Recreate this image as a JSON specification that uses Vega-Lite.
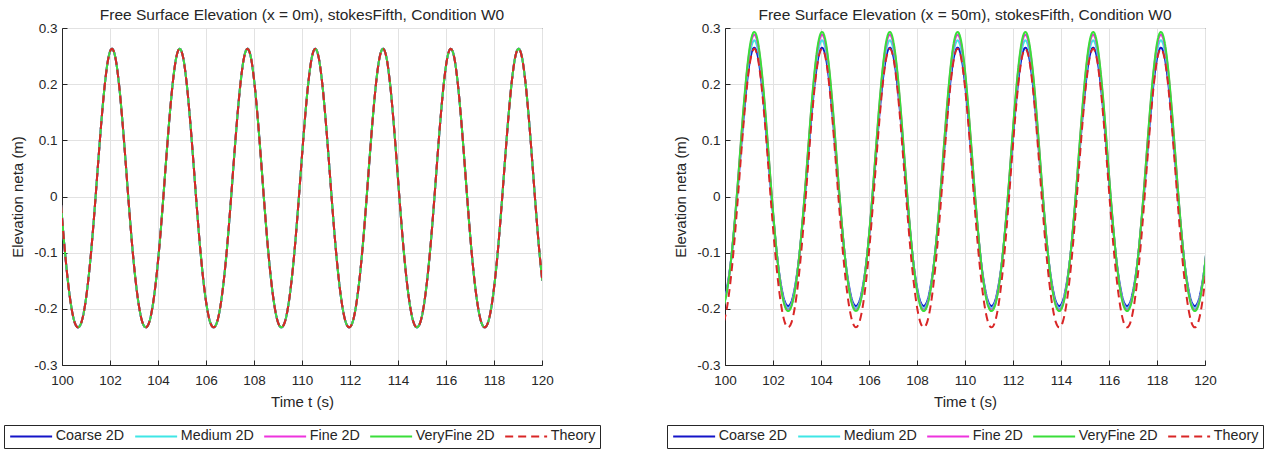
{
"$schema": "https://vega.github.io/schema/vega-lite/v6.json",
"background": "white",
"padding": {"left": 3, "top": 7, "right": 0, "bottom": 0},
"spacing": 65,
"config": {
  "font": "Liberation Sans",
  "view": {"stroke": "#262626", "strokeWidth": 1},
  "axis": {"labelFont": "Liberation Sans", "titleFont": "Liberation Sans", "labelFontSize": 13.5, "labelColor": "#262626", "titleFontSize": 15, "titleFontWeight": "normal", "titleColor": "#262626", "domainColor": "#262626", "tickColor": "#262626", "gridColor": "#e2e2e2", "grid": true, "tickSize": -5, "labelPadding": 10, "labelFlush": false},
  "axisX": {"titlePadding": 8, "labelPadding": 13},
  "axisY": {"titlePadding": 8},
  "title": {"font": "Liberation Sans", "fontSize": 15.5, "fontWeight": "normal", "color": "#262626", "offset": -2},
  "legend": {"orient": "none", "legendX": -58, "legendY": 397, "direction": "horizontal", "symbolType": "M-4,0H4", "symbolSize": 110, "symbolStrokeWidth": 2, "symbolOffset": 16, "labelOffset": 17.5, "labelFont": "Liberation Sans", "labelFontSize": 14.3, "labelColor": "#262626", "columnPadding": 6, "padding": 4, "strokeColor": "#262626", "fillColor": "white", "labelLimit": 200}
},
"datasets": {
"left": [
{"t":99.962,"c":-0.015,"m":-0.015,"f":-0.015,"v":-0.015,"th":-0.015},
{"t":100.103,"c":-0.089,"m":-0.089,"f":-0.089,"v":-0.089,"th":-0.089},
{"t":100.244,"c":-0.15,"m":-0.15,"f":-0.15,"v":-0.15,"th":-0.15},
{"t":100.386,"c":-0.196,"m":-0.196,"f":-0.196,"v":-0.196,"th":-0.196},
{"t":100.527,"c":-0.224,"m":-0.224,"f":-0.224,"v":-0.224,"th":-0.224},
{"t":100.668,"c":-0.233,"m":-0.233,"f":-0.233,"v":-0.233,"th":-0.233},
{"t":100.809,"c":-0.224,"m":-0.224,"f":-0.224,"v":-0.224,"th":-0.224},
{"t":100.95,"c":-0.196,"m":-0.196,"f":-0.196,"v":-0.196,"th":-0.196},
{"t":101.092,"c":-0.15,"m":-0.15,"f":-0.15,"v":-0.15,"th":-0.15},
{"t":101.233,"c":-0.089,"m":-0.089,"f":-0.089,"v":-0.089,"th":-0.089},
{"t":101.374,"c":-0.015,"m":-0.015,"f":-0.015,"v":-0.015,"th":-0.015},
{"t":101.515,"c":0.065,"m":0.065,"f":0.065,"v":0.065,"th":0.065},
{"t":101.656,"c":0.141,"m":0.141,"f":0.141,"v":0.141,"th":0.141},
{"t":101.798,"c":0.205,"m":0.205,"f":0.205,"v":0.205,"th":0.205},
{"t":101.939,"c":0.248,"m":0.248,"f":0.248,"v":0.248,"th":0.248},
{"t":102.08,"c":0.263,"m":0.263,"f":0.263,"v":0.263,"th":0.263},
{"t":102.221,"c":0.248,"m":0.248,"f":0.248,"v":0.248,"th":0.248},
{"t":102.362,"c":0.205,"m":0.205,"f":0.205,"v":0.205,"th":0.205},
{"t":102.504,"c":0.141,"m":0.141,"f":0.141,"v":0.141,"th":0.141},
{"t":102.645,"c":0.065,"m":0.065,"f":0.065,"v":0.065,"th":0.065},
{"t":102.786,"c":-0.015,"m":-0.015,"f":-0.015,"v":-0.015,"th":-0.015},
{"t":102.927,"c":-0.089,"m":-0.089,"f":-0.089,"v":-0.089,"th":-0.089},
{"t":103.068,"c":-0.15,"m":-0.15,"f":-0.15,"v":-0.15,"th":-0.15},
{"t":103.21,"c":-0.196,"m":-0.196,"f":-0.196,"v":-0.196,"th":-0.196},
{"t":103.351,"c":-0.224,"m":-0.224,"f":-0.224,"v":-0.224,"th":-0.224},
{"t":103.492,"c":-0.233,"m":-0.233,"f":-0.233,"v":-0.233,"th":-0.233},
{"t":103.633,"c":-0.224,"m":-0.224,"f":-0.224,"v":-0.224,"th":-0.224},
{"t":103.774,"c":-0.196,"m":-0.196,"f":-0.196,"v":-0.196,"th":-0.196},
{"t":103.916,"c":-0.15,"m":-0.15,"f":-0.15,"v":-0.15,"th":-0.15},
{"t":104.057,"c":-0.089,"m":-0.089,"f":-0.089,"v":-0.089,"th":-0.089},
{"t":104.198,"c":-0.015,"m":-0.015,"f":-0.015,"v":-0.015,"th":-0.015},
{"t":104.339,"c":0.065,"m":0.065,"f":0.065,"v":0.065,"th":0.065},
{"t":104.48,"c":0.141,"m":0.141,"f":0.141,"v":0.141,"th":0.141},
{"t":104.622,"c":0.205,"m":0.205,"f":0.205,"v":0.205,"th":0.205},
{"t":104.763,"c":0.248,"m":0.248,"f":0.248,"v":0.248,"th":0.248},
{"t":104.904,"c":0.263,"m":0.263,"f":0.263,"v":0.263,"th":0.263},
{"t":105.045,"c":0.248,"m":0.248,"f":0.248,"v":0.248,"th":0.248},
{"t":105.186,"c":0.205,"m":0.205,"f":0.205,"v":0.205,"th":0.205},
{"t":105.328,"c":0.141,"m":0.141,"f":0.141,"v":0.141,"th":0.141},
{"t":105.469,"c":0.065,"m":0.065,"f":0.065,"v":0.065,"th":0.065},
{"t":105.61,"c":-0.015,"m":-0.015,"f":-0.015,"v":-0.015,"th":-0.015},
{"t":105.751,"c":-0.089,"m":-0.089,"f":-0.089,"v":-0.089,"th":-0.089},
{"t":105.892,"c":-0.15,"m":-0.15,"f":-0.15,"v":-0.15,"th":-0.15},
{"t":106.034,"c":-0.196,"m":-0.196,"f":-0.196,"v":-0.196,"th":-0.196},
{"t":106.175,"c":-0.224,"m":-0.224,"f":-0.224,"v":-0.224,"th":-0.224},
{"t":106.316,"c":-0.233,"m":-0.233,"f":-0.233,"v":-0.233,"th":-0.233},
{"t":106.457,"c":-0.224,"m":-0.224,"f":-0.224,"v":-0.224,"th":-0.224},
{"t":106.598,"c":-0.196,"m":-0.196,"f":-0.196,"v":-0.196,"th":-0.196},
{"t":106.74,"c":-0.15,"m":-0.15,"f":-0.15,"v":-0.15,"th":-0.15},
{"t":106.881,"c":-0.089,"m":-0.089,"f":-0.089,"v":-0.089,"th":-0.089},
{"t":107.022,"c":-0.015,"m":-0.015,"f":-0.015,"v":-0.015,"th":-0.015},
{"t":107.163,"c":0.065,"m":0.065,"f":0.065,"v":0.065,"th":0.065},
{"t":107.304,"c":0.141,"m":0.141,"f":0.141,"v":0.141,"th":0.141},
{"t":107.446,"c":0.205,"m":0.205,"f":0.205,"v":0.205,"th":0.205},
{"t":107.587,"c":0.248,"m":0.248,"f":0.248,"v":0.248,"th":0.248},
{"t":107.728,"c":0.263,"m":0.263,"f":0.263,"v":0.263,"th":0.263},
{"t":107.869,"c":0.248,"m":0.248,"f":0.248,"v":0.248,"th":0.248},
{"t":108.01,"c":0.205,"m":0.205,"f":0.205,"v":0.205,"th":0.205},
{"t":108.152,"c":0.141,"m":0.141,"f":0.141,"v":0.141,"th":0.141},
{"t":108.293,"c":0.065,"m":0.065,"f":0.065,"v":0.065,"th":0.065},
{"t":108.434,"c":-0.015,"m":-0.015,"f":-0.015,"v":-0.015,"th":-0.015},
{"t":108.575,"c":-0.089,"m":-0.089,"f":-0.089,"v":-0.089,"th":-0.089},
{"t":108.716,"c":-0.15,"m":-0.15,"f":-0.15,"v":-0.15,"th":-0.15},
{"t":108.858,"c":-0.196,"m":-0.196,"f":-0.196,"v":-0.196,"th":-0.196},
{"t":108.999,"c":-0.224,"m":-0.224,"f":-0.224,"v":-0.224,"th":-0.224},
{"t":109.14,"c":-0.233,"m":-0.233,"f":-0.233,"v":-0.233,"th":-0.233},
{"t":109.281,"c":-0.224,"m":-0.224,"f":-0.224,"v":-0.224,"th":-0.224},
{"t":109.422,"c":-0.196,"m":-0.196,"f":-0.196,"v":-0.196,"th":-0.196},
{"t":109.564,"c":-0.15,"m":-0.15,"f":-0.15,"v":-0.15,"th":-0.15},
{"t":109.705,"c":-0.089,"m":-0.089,"f":-0.089,"v":-0.089,"th":-0.089},
{"t":109.846,"c":-0.015,"m":-0.015,"f":-0.015,"v":-0.015,"th":-0.015},
{"t":109.987,"c":0.065,"m":0.065,"f":0.065,"v":0.065,"th":0.065},
{"t":110.128,"c":0.141,"m":0.141,"f":0.141,"v":0.141,"th":0.141},
{"t":110.27,"c":0.205,"m":0.205,"f":0.205,"v":0.205,"th":0.205},
{"t":110.411,"c":0.248,"m":0.248,"f":0.248,"v":0.248,"th":0.248},
{"t":110.552,"c":0.263,"m":0.263,"f":0.263,"v":0.263,"th":0.263},
{"t":110.693,"c":0.248,"m":0.248,"f":0.248,"v":0.248,"th":0.248},
{"t":110.834,"c":0.205,"m":0.205,"f":0.205,"v":0.205,"th":0.205},
{"t":110.976,"c":0.141,"m":0.141,"f":0.141,"v":0.141,"th":0.141},
{"t":111.117,"c":0.065,"m":0.065,"f":0.065,"v":0.065,"th":0.065},
{"t":111.258,"c":-0.015,"m":-0.015,"f":-0.015,"v":-0.015,"th":-0.015},
{"t":111.399,"c":-0.089,"m":-0.089,"f":-0.089,"v":-0.089,"th":-0.089},
{"t":111.54,"c":-0.15,"m":-0.15,"f":-0.15,"v":-0.15,"th":-0.15},
{"t":111.682,"c":-0.196,"m":-0.196,"f":-0.196,"v":-0.196,"th":-0.196},
{"t":111.823,"c":-0.224,"m":-0.224,"f":-0.224,"v":-0.224,"th":-0.224},
{"t":111.964,"c":-0.233,"m":-0.233,"f":-0.233,"v":-0.233,"th":-0.233},
{"t":112.105,"c":-0.224,"m":-0.224,"f":-0.224,"v":-0.224,"th":-0.224},
{"t":112.246,"c":-0.196,"m":-0.196,"f":-0.196,"v":-0.196,"th":-0.196},
{"t":112.388,"c":-0.15,"m":-0.15,"f":-0.15,"v":-0.15,"th":-0.15},
{"t":112.529,"c":-0.089,"m":-0.089,"f":-0.089,"v":-0.089,"th":-0.089},
{"t":112.67,"c":-0.015,"m":-0.015,"f":-0.015,"v":-0.015,"th":-0.015},
{"t":112.811,"c":0.065,"m":0.065,"f":0.065,"v":0.065,"th":0.065},
{"t":112.952,"c":0.141,"m":0.141,"f":0.141,"v":0.141,"th":0.141},
{"t":113.094,"c":0.205,"m":0.205,"f":0.205,"v":0.205,"th":0.205},
{"t":113.235,"c":0.248,"m":0.248,"f":0.248,"v":0.248,"th":0.248},
{"t":113.376,"c":0.263,"m":0.263,"f":0.263,"v":0.263,"th":0.263},
{"t":113.517,"c":0.248,"m":0.248,"f":0.248,"v":0.248,"th":0.248},
{"t":113.658,"c":0.205,"m":0.205,"f":0.205,"v":0.205,"th":0.205},
{"t":113.8,"c":0.141,"m":0.141,"f":0.141,"v":0.141,"th":0.141},
{"t":113.941,"c":0.065,"m":0.065,"f":0.065,"v":0.065,"th":0.065},
{"t":114.082,"c":-0.015,"m":-0.015,"f":-0.015,"v":-0.015,"th":-0.015},
{"t":114.223,"c":-0.089,"m":-0.089,"f":-0.089,"v":-0.089,"th":-0.089},
{"t":114.364,"c":-0.15,"m":-0.15,"f":-0.15,"v":-0.15,"th":-0.15},
{"t":114.506,"c":-0.196,"m":-0.196,"f":-0.196,"v":-0.196,"th":-0.196},
{"t":114.647,"c":-0.224,"m":-0.224,"f":-0.224,"v":-0.224,"th":-0.224},
{"t":114.788,"c":-0.233,"m":-0.233,"f":-0.233,"v":-0.233,"th":-0.233},
{"t":114.929,"c":-0.224,"m":-0.224,"f":-0.224,"v":-0.224,"th":-0.224},
{"t":115.07,"c":-0.196,"m":-0.196,"f":-0.196,"v":-0.196,"th":-0.196},
{"t":115.212,"c":-0.15,"m":-0.15,"f":-0.15,"v":-0.15,"th":-0.15},
{"t":115.353,"c":-0.089,"m":-0.089,"f":-0.089,"v":-0.089,"th":-0.089},
{"t":115.494,"c":-0.015,"m":-0.015,"f":-0.015,"v":-0.015,"th":-0.015},
{"t":115.635,"c":0.065,"m":0.065,"f":0.065,"v":0.065,"th":0.065},
{"t":115.776,"c":0.141,"m":0.141,"f":0.141,"v":0.141,"th":0.141},
{"t":115.918,"c":0.205,"m":0.205,"f":0.205,"v":0.205,"th":0.205},
{"t":116.059,"c":0.248,"m":0.248,"f":0.248,"v":0.248,"th":0.248},
{"t":116.2,"c":0.263,"m":0.263,"f":0.263,"v":0.263,"th":0.263},
{"t":116.341,"c":0.248,"m":0.248,"f":0.248,"v":0.248,"th":0.248},
{"t":116.482,"c":0.205,"m":0.205,"f":0.205,"v":0.205,"th":0.205},
{"t":116.624,"c":0.141,"m":0.141,"f":0.141,"v":0.141,"th":0.141},
{"t":116.765,"c":0.065,"m":0.065,"f":0.065,"v":0.065,"th":0.065},
{"t":116.906,"c":-0.015,"m":-0.015,"f":-0.015,"v":-0.015,"th":-0.015},
{"t":117.047,"c":-0.089,"m":-0.089,"f":-0.089,"v":-0.089,"th":-0.089},
{"t":117.188,"c":-0.15,"m":-0.15,"f":-0.15,"v":-0.15,"th":-0.15},
{"t":117.33,"c":-0.196,"m":-0.196,"f":-0.196,"v":-0.196,"th":-0.196},
{"t":117.471,"c":-0.224,"m":-0.224,"f":-0.224,"v":-0.224,"th":-0.224},
{"t":117.612,"c":-0.233,"m":-0.233,"f":-0.233,"v":-0.233,"th":-0.233},
{"t":117.753,"c":-0.224,"m":-0.224,"f":-0.224,"v":-0.224,"th":-0.224},
{"t":117.894,"c":-0.196,"m":-0.196,"f":-0.196,"v":-0.196,"th":-0.196},
{"t":118.036,"c":-0.15,"m":-0.15,"f":-0.15,"v":-0.15,"th":-0.15},
{"t":118.177,"c":-0.089,"m":-0.089,"f":-0.089,"v":-0.089,"th":-0.089},
{"t":118.318,"c":-0.015,"m":-0.015,"f":-0.015,"v":-0.015,"th":-0.015},
{"t":118.459,"c":0.065,"m":0.065,"f":0.065,"v":0.065,"th":0.065},
{"t":118.6,"c":0.141,"m":0.141,"f":0.141,"v":0.141,"th":0.141},
{"t":118.742,"c":0.205,"m":0.205,"f":0.205,"v":0.205,"th":0.205},
{"t":118.883,"c":0.248,"m":0.248,"f":0.248,"v":0.248,"th":0.248},
{"t":119.024,"c":0.263,"m":0.263,"f":0.263,"v":0.263,"th":0.263},
{"t":119.165,"c":0.248,"m":0.248,"f":0.248,"v":0.248,"th":0.248},
{"t":119.306,"c":0.205,"m":0.205,"f":0.205,"v":0.205,"th":0.205},
{"t":119.448,"c":0.141,"m":0.141,"f":0.141,"v":0.141,"th":0.141},
{"t":119.589,"c":0.065,"m":0.065,"f":0.065,"v":0.065,"th":0.065},
{"t":119.73,"c":-0.015,"m":-0.015,"f":-0.015,"v":-0.015,"th":-0.015},
{"t":119.871,"c":-0.089,"m":-0.089,"f":-0.089,"v":-0.089,"th":-0.089},
{"t":120.012,"c":-0.15,"m":-0.15,"f":-0.15,"v":-0.15,"th":-0.15}
],
"right": [
{"t":99.949,"c":-0.187,"m":-0.19,"f":-0.193,"v":-0.195,"th":-0.224},
{"t":100.09,"c":-0.161,"m":-0.164,"f":-0.166,"v":-0.167,"th":-0.196},
{"t":100.232,"c":-0.12,"m":-0.12,"f":-0.121,"v":-0.121,"th":-0.15},
{"t":100.373,"c":-0.063,"m":-0.061,"f":-0.06,"v":-0.059,"th":-0.089},
{"t":100.514,"c":0.005,"m":0.01,"f":0.013,"v":0.014,"th":-0.015},
{"t":100.655,"c":0.079,"m":0.086,"f":0.092,"v":0.094,"th":0.065},
{"t":100.796,"c":0.151,"m":0.16,"f":0.167,"v":0.171,"th":0.141},
{"t":100.938,"c":0.211,"m":0.222,"f":0.231,"v":0.235,"th":0.205},
{"t":101.079,"c":0.251,"m":0.263,"f":0.273,"v":0.278,"th":0.248},
{"t":101.22,"c":0.265,"m":0.278,"f":0.288,"v":0.293,"th":0.263},
{"t":101.361,"c":0.251,"m":0.263,"f":0.273,"v":0.278,"th":0.248},
{"t":101.502,"c":0.211,"m":0.222,"f":0.231,"v":0.235,"th":0.205},
{"t":101.644,"c":0.151,"m":0.16,"f":0.167,"v":0.171,"th":0.141},
{"t":101.785,"c":0.079,"m":0.086,"f":0.092,"v":0.094,"th":0.065},
{"t":101.926,"c":0.005,"m":0.01,"f":0.013,"v":0.014,"th":-0.015},
{"t":102.067,"c":-0.063,"m":-0.061,"f":-0.06,"v":-0.059,"th":-0.089},
{"t":102.208,"c":-0.12,"m":-0.12,"f":-0.121,"v":-0.121,"th":-0.15},
{"t":102.35,"c":-0.161,"m":-0.164,"f":-0.166,"v":-0.167,"th":-0.196},
{"t":102.491,"c":-0.187,"m":-0.19,"f":-0.193,"v":-0.195,"th":-0.224},
{"t":102.632,"c":-0.195,"m":-0.199,"f":-0.202,"v":-0.204,"th":-0.233},
{"t":102.773,"c":-0.187,"m":-0.19,"f":-0.193,"v":-0.195,"th":-0.224},
{"t":102.914,"c":-0.161,"m":-0.164,"f":-0.166,"v":-0.167,"th":-0.196},
{"t":103.056,"c":-0.12,"m":-0.12,"f":-0.121,"v":-0.121,"th":-0.15},
{"t":103.197,"c":-0.063,"m":-0.061,"f":-0.06,"v":-0.059,"th":-0.089},
{"t":103.338,"c":0.005,"m":0.01,"f":0.013,"v":0.014,"th":-0.015},
{"t":103.479,"c":0.079,"m":0.086,"f":0.092,"v":0.094,"th":0.065},
{"t":103.62,"c":0.151,"m":0.16,"f":0.167,"v":0.171,"th":0.141},
{"t":103.762,"c":0.211,"m":0.222,"f":0.231,"v":0.235,"th":0.205},
{"t":103.903,"c":0.251,"m":0.263,"f":0.273,"v":0.278,"th":0.248},
{"t":104.044,"c":0.265,"m":0.278,"f":0.288,"v":0.293,"th":0.263},
{"t":104.185,"c":0.251,"m":0.263,"f":0.273,"v":0.278,"th":0.248},
{"t":104.326,"c":0.211,"m":0.222,"f":0.231,"v":0.235,"th":0.205},
{"t":104.468,"c":0.151,"m":0.16,"f":0.167,"v":0.171,"th":0.141},
{"t":104.609,"c":0.079,"m":0.086,"f":0.092,"v":0.094,"th":0.065},
{"t":104.75,"c":0.005,"m":0.01,"f":0.013,"v":0.014,"th":-0.015},
{"t":104.891,"c":-0.063,"m":-0.061,"f":-0.06,"v":-0.059,"th":-0.089},
{"t":105.032,"c":-0.12,"m":-0.12,"f":-0.121,"v":-0.121,"th":-0.15},
{"t":105.174,"c":-0.161,"m":-0.164,"f":-0.166,"v":-0.167,"th":-0.196},
{"t":105.315,"c":-0.187,"m":-0.19,"f":-0.193,"v":-0.195,"th":-0.224},
{"t":105.456,"c":-0.195,"m":-0.199,"f":-0.202,"v":-0.204,"th":-0.233},
{"t":105.597,"c":-0.187,"m":-0.19,"f":-0.193,"v":-0.195,"th":-0.224},
{"t":105.738,"c":-0.161,"m":-0.164,"f":-0.166,"v":-0.167,"th":-0.196},
{"t":105.88,"c":-0.12,"m":-0.12,"f":-0.121,"v":-0.121,"th":-0.15},
{"t":106.021,"c":-0.063,"m":-0.061,"f":-0.06,"v":-0.059,"th":-0.089},
{"t":106.162,"c":0.005,"m":0.01,"f":0.013,"v":0.014,"th":-0.015},
{"t":106.303,"c":0.079,"m":0.086,"f":0.092,"v":0.094,"th":0.065},
{"t":106.444,"c":0.151,"m":0.16,"f":0.167,"v":0.171,"th":0.141},
{"t":106.586,"c":0.211,"m":0.222,"f":0.231,"v":0.235,"th":0.205},
{"t":106.727,"c":0.251,"m":0.263,"f":0.273,"v":0.278,"th":0.248},
{"t":106.868,"c":0.265,"m":0.278,"f":0.288,"v":0.293,"th":0.263},
{"t":107.009,"c":0.251,"m":0.263,"f":0.273,"v":0.278,"th":0.248},
{"t":107.15,"c":0.211,"m":0.222,"f":0.231,"v":0.235,"th":0.205},
{"t":107.292,"c":0.151,"m":0.16,"f":0.167,"v":0.171,"th":0.141},
{"t":107.433,"c":0.079,"m":0.086,"f":0.092,"v":0.094,"th":0.065},
{"t":107.574,"c":0.005,"m":0.01,"f":0.013,"v":0.014,"th":-0.015},
{"t":107.715,"c":-0.063,"m":-0.061,"f":-0.06,"v":-0.059,"th":-0.089},
{"t":107.856,"c":-0.12,"m":-0.12,"f":-0.121,"v":-0.121,"th":-0.15},
{"t":107.998,"c":-0.161,"m":-0.164,"f":-0.166,"v":-0.167,"th":-0.196},
{"t":108.139,"c":-0.187,"m":-0.19,"f":-0.193,"v":-0.195,"th":-0.224},
{"t":108.28,"c":-0.195,"m":-0.199,"f":-0.202,"v":-0.204,"th":-0.233},
{"t":108.421,"c":-0.187,"m":-0.19,"f":-0.193,"v":-0.195,"th":-0.224},
{"t":108.562,"c":-0.161,"m":-0.164,"f":-0.166,"v":-0.167,"th":-0.196},
{"t":108.704,"c":-0.12,"m":-0.12,"f":-0.121,"v":-0.121,"th":-0.15},
{"t":108.845,"c":-0.063,"m":-0.061,"f":-0.06,"v":-0.059,"th":-0.089},
{"t":108.986,"c":0.005,"m":0.01,"f":0.013,"v":0.014,"th":-0.015},
{"t":109.127,"c":0.079,"m":0.086,"f":0.092,"v":0.094,"th":0.065},
{"t":109.268,"c":0.151,"m":0.16,"f":0.167,"v":0.171,"th":0.141},
{"t":109.41,"c":0.211,"m":0.222,"f":0.231,"v":0.235,"th":0.205},
{"t":109.551,"c":0.251,"m":0.263,"f":0.273,"v":0.278,"th":0.248},
{"t":109.692,"c":0.265,"m":0.278,"f":0.288,"v":0.293,"th":0.263},
{"t":109.833,"c":0.251,"m":0.263,"f":0.273,"v":0.278,"th":0.248},
{"t":109.974,"c":0.211,"m":0.222,"f":0.231,"v":0.235,"th":0.205},
{"t":110.116,"c":0.151,"m":0.16,"f":0.167,"v":0.171,"th":0.141},
{"t":110.257,"c":0.079,"m":0.086,"f":0.092,"v":0.094,"th":0.065},
{"t":110.398,"c":0.005,"m":0.01,"f":0.013,"v":0.014,"th":-0.015},
{"t":110.539,"c":-0.063,"m":-0.061,"f":-0.06,"v":-0.059,"th":-0.089},
{"t":110.68,"c":-0.12,"m":-0.12,"f":-0.121,"v":-0.121,"th":-0.15},
{"t":110.822,"c":-0.161,"m":-0.164,"f":-0.166,"v":-0.167,"th":-0.196},
{"t":110.963,"c":-0.187,"m":-0.19,"f":-0.193,"v":-0.195,"th":-0.224},
{"t":111.104,"c":-0.195,"m":-0.199,"f":-0.202,"v":-0.204,"th":-0.233},
{"t":111.245,"c":-0.187,"m":-0.19,"f":-0.193,"v":-0.195,"th":-0.224},
{"t":111.386,"c":-0.161,"m":-0.164,"f":-0.166,"v":-0.167,"th":-0.196},
{"t":111.528,"c":-0.12,"m":-0.12,"f":-0.121,"v":-0.121,"th":-0.15},
{"t":111.669,"c":-0.063,"m":-0.061,"f":-0.06,"v":-0.059,"th":-0.089},
{"t":111.81,"c":0.005,"m":0.01,"f":0.013,"v":0.014,"th":-0.015},
{"t":111.951,"c":0.079,"m":0.086,"f":0.092,"v":0.094,"th":0.065},
{"t":112.092,"c":0.151,"m":0.16,"f":0.167,"v":0.171,"th":0.141},
{"t":112.234,"c":0.211,"m":0.222,"f":0.231,"v":0.235,"th":0.205},
{"t":112.375,"c":0.251,"m":0.263,"f":0.273,"v":0.278,"th":0.248},
{"t":112.516,"c":0.265,"m":0.278,"f":0.288,"v":0.293,"th":0.263},
{"t":112.657,"c":0.251,"m":0.263,"f":0.273,"v":0.278,"th":0.248},
{"t":112.798,"c":0.211,"m":0.222,"f":0.231,"v":0.235,"th":0.205},
{"t":112.94,"c":0.151,"m":0.16,"f":0.167,"v":0.171,"th":0.141},
{"t":113.081,"c":0.079,"m":0.086,"f":0.092,"v":0.094,"th":0.065},
{"t":113.222,"c":0.005,"m":0.01,"f":0.013,"v":0.014,"th":-0.015},
{"t":113.363,"c":-0.063,"m":-0.061,"f":-0.06,"v":-0.059,"th":-0.089},
{"t":113.504,"c":-0.12,"m":-0.12,"f":-0.121,"v":-0.121,"th":-0.15},
{"t":113.646,"c":-0.161,"m":-0.164,"f":-0.166,"v":-0.167,"th":-0.196},
{"t":113.787,"c":-0.187,"m":-0.19,"f":-0.193,"v":-0.195,"th":-0.224},
{"t":113.928,"c":-0.195,"m":-0.199,"f":-0.202,"v":-0.204,"th":-0.233},
{"t":114.069,"c":-0.187,"m":-0.19,"f":-0.193,"v":-0.195,"th":-0.224},
{"t":114.21,"c":-0.161,"m":-0.164,"f":-0.166,"v":-0.167,"th":-0.196},
{"t":114.352,"c":-0.12,"m":-0.12,"f":-0.121,"v":-0.121,"th":-0.15},
{"t":114.493,"c":-0.063,"m":-0.061,"f":-0.06,"v":-0.059,"th":-0.089},
{"t":114.634,"c":0.005,"m":0.01,"f":0.013,"v":0.014,"th":-0.015},
{"t":114.775,"c":0.079,"m":0.086,"f":0.092,"v":0.094,"th":0.065},
{"t":114.916,"c":0.151,"m":0.16,"f":0.167,"v":0.171,"th":0.141},
{"t":115.058,"c":0.211,"m":0.222,"f":0.231,"v":0.235,"th":0.205},
{"t":115.199,"c":0.251,"m":0.263,"f":0.273,"v":0.278,"th":0.248},
{"t":115.34,"c":0.265,"m":0.278,"f":0.288,"v":0.293,"th":0.263},
{"t":115.481,"c":0.251,"m":0.263,"f":0.273,"v":0.278,"th":0.248},
{"t":115.622,"c":0.211,"m":0.222,"f":0.231,"v":0.235,"th":0.205},
{"t":115.764,"c":0.151,"m":0.16,"f":0.167,"v":0.171,"th":0.141},
{"t":115.905,"c":0.079,"m":0.086,"f":0.092,"v":0.094,"th":0.065},
{"t":116.046,"c":0.005,"m":0.01,"f":0.013,"v":0.014,"th":-0.015},
{"t":116.187,"c":-0.063,"m":-0.061,"f":-0.06,"v":-0.059,"th":-0.089},
{"t":116.328,"c":-0.12,"m":-0.12,"f":-0.121,"v":-0.121,"th":-0.15},
{"t":116.47,"c":-0.161,"m":-0.164,"f":-0.166,"v":-0.167,"th":-0.196},
{"t":116.611,"c":-0.187,"m":-0.19,"f":-0.193,"v":-0.195,"th":-0.224},
{"t":116.752,"c":-0.195,"m":-0.199,"f":-0.202,"v":-0.204,"th":-0.233},
{"t":116.893,"c":-0.187,"m":-0.19,"f":-0.193,"v":-0.195,"th":-0.224},
{"t":117.034,"c":-0.161,"m":-0.164,"f":-0.166,"v":-0.167,"th":-0.196},
{"t":117.176,"c":-0.12,"m":-0.12,"f":-0.121,"v":-0.121,"th":-0.15},
{"t":117.317,"c":-0.063,"m":-0.061,"f":-0.06,"v":-0.059,"th":-0.089},
{"t":117.458,"c":0.005,"m":0.01,"f":0.013,"v":0.014,"th":-0.015},
{"t":117.599,"c":0.079,"m":0.086,"f":0.092,"v":0.094,"th":0.065},
{"t":117.74,"c":0.151,"m":0.16,"f":0.167,"v":0.171,"th":0.141},
{"t":117.882,"c":0.211,"m":0.222,"f":0.231,"v":0.235,"th":0.205},
{"t":118.023,"c":0.251,"m":0.263,"f":0.273,"v":0.278,"th":0.248},
{"t":118.164,"c":0.265,"m":0.278,"f":0.288,"v":0.293,"th":0.263},
{"t":118.305,"c":0.251,"m":0.263,"f":0.273,"v":0.278,"th":0.248},
{"t":118.446,"c":0.211,"m":0.222,"f":0.231,"v":0.235,"th":0.205},
{"t":118.588,"c":0.151,"m":0.16,"f":0.167,"v":0.171,"th":0.141},
{"t":118.729,"c":0.079,"m":0.086,"f":0.092,"v":0.094,"th":0.065},
{"t":118.87,"c":0.005,"m":0.01,"f":0.013,"v":0.014,"th":-0.015},
{"t":119.011,"c":-0.063,"m":-0.061,"f":-0.06,"v":-0.059,"th":-0.089},
{"t":119.152,"c":-0.12,"m":-0.12,"f":-0.121,"v":-0.121,"th":-0.15},
{"t":119.294,"c":-0.161,"m":-0.164,"f":-0.166,"v":-0.167,"th":-0.196},
{"t":119.435,"c":-0.187,"m":-0.19,"f":-0.193,"v":-0.195,"th":-0.224},
{"t":119.576,"c":-0.195,"m":-0.199,"f":-0.202,"v":-0.204,"th":-0.233},
{"t":119.717,"c":-0.187,"m":-0.19,"f":-0.193,"v":-0.195,"th":-0.224},
{"t":119.858,"c":-0.161,"m":-0.164,"f":-0.166,"v":-0.167,"th":-0.196},
{"t":120.0,"c":-0.12,"m":-0.12,"f":-0.121,"v":-0.121,"th":-0.15},
{"t":120.141,"c":-0.063,"m":-0.061,"f":-0.06,"v":-0.059,"th":-0.089}
]
},
"hconcat": [
{
  "title": "Free Surface Elevation (x = 0m), stokesFifth, Condition W0",
  "width": 480, "height": 337,
  "data": {"name": "left"},
  "transform": [{"fold": ["c","m","f","v","th"], "as": ["key","y"]}],
  "mark": {"type": "line", "interpolate": "monotone", "clip": true, "strokeWidth": 2},
  "encoding": {
    "x": {"field": "t", "type": "quantitative", "scale": {"domain": [100,120], "nice": false}, "axis": {"title": "Time t (s)", "values": [100,102,104,106,108,110,112,114,116,118,120], "format": "d"}},
    "y": {"field": "y", "type": "quantitative", "scale": {"domain": [-0.3,0.3], "nice": false}, "axis": {"title": "Elevation neta (m)", "values": [-0.3,-0.2,-0.1,0,0.1,0.2,0.3], "labelExpr": "replace(format(datum.value, '.1~f'), '\u2212', '-')"}},
    "color": {"field": "key", "type": "nominal", "scale": {"domain": ["c","m","f","v","th"], "range": ["#1414c8","#3fe6e6","#ee33dd","#3ade3a","#d92626"]}, "legend": {"title": null, "labelExpr": "datum.label == 'c' ? 'Coarse 2D' : datum.label == 'm' ? 'Medium 2D' : datum.label == 'f' ? 'Fine 2D' : datum.label == 'v' ? 'VeryFine 2D' : 'Theory'"}},
    "strokeDash": {"field": "key", "type": "nominal", "scale": {"domain": ["c","m","f","v","th"], "range": [[1,0],[1,0],[1,0],[1,0],[8,5]]}, "legend": {"title": null, "labelExpr": "datum.label == 'c' ? 'Coarse 2D' : datum.label == 'm' ? 'Medium 2D' : datum.label == 'f' ? 'Fine 2D' : datum.label == 'v' ? 'VeryFine 2D' : 'Theory'"}}
  }
},
{
  "title": "Free Surface Elevation (x = 50m), stokesFifth, Condition W0",
  "width": 480, "height": 337,
  "data": {"name": "right"},
  "transform": [{"fold": ["c","m","f","v","th"], "as": ["key","y"]}],
  "mark": {"type": "line", "interpolate": "monotone", "clip": true, "strokeWidth": 2},
  "encoding": {
    "x": {"field": "t", "type": "quantitative", "scale": {"domain": [100,120], "nice": false}, "axis": {"title": "Time t (s)", "values": [100,102,104,106,108,110,112,114,116,118,120], "format": "d"}},
    "y": {"field": "y", "type": "quantitative", "scale": {"domain": [-0.3,0.3], "nice": false}, "axis": {"title": "Elevation neta (m)", "values": [-0.3,-0.2,-0.1,0,0.1,0.2,0.3], "labelExpr": "replace(format(datum.value, '.1~f'), '\u2212', '-')"}},
    "color": {"field": "key", "type": "nominal", "scale": {"domain": ["c","m","f","v","th"], "range": ["#1414c8","#3fe6e6","#ee33dd","#3ade3a","#d92626"]}, "legend": {"title": null, "labelExpr": "datum.label == 'c' ? 'Coarse 2D' : datum.label == 'm' ? 'Medium 2D' : datum.label == 'f' ? 'Fine 2D' : datum.label == 'v' ? 'VeryFine 2D' : 'Theory'"}},
    "strokeDash": {"field": "key", "type": "nominal", "scale": {"domain": ["c","m","f","v","th"], "range": [[1,0],[1,0],[1,0],[1,0],[8,5]]}, "legend": {"title": null, "labelExpr": "datum.label == 'c' ? 'Coarse 2D' : datum.label == 'm' ? 'Medium 2D' : datum.label == 'f' ? 'Fine 2D' : datum.label == 'v' ? 'VeryFine 2D' : 'Theory'"}}
  }
}
],
"resolve": {"scale": {"color": "independent", "strokeDash": "independent"}}
}
